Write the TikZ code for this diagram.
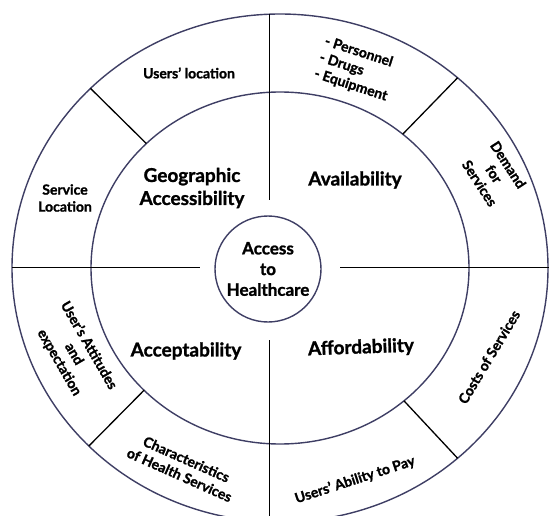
\documentclass[tikz,border=0pt]{standalone}
\usepackage{fontspec}
\setmainfont{Lato}[BoldFeatures={FakeBold=1.3}]
\definecolor{ringcol}{RGB}{62,62,100}
\tikzset{
  ring/.style={draw=ringcol, line width=1.4pt},
  divider/.style={draw=black, line width=1.3pt},
  mainlbl/.style={font=\fontsize{19}{23}\selectfont\bfseries, align=center, inner sep=0pt},
  outerlbl/.style={font=\fontsize{14}{17}\selectfont\bfseries, align=center, inner sep=0pt},
  hub/.style={circle, draw=ringcol, line width=1.4pt, fill=white, minimum size=106pt, inner sep=0pt,
    font=\fontsize{17}{20.7}\selectfont\bfseries, align=center}
}
\begin{document}
\begin{tikzpicture}[x=1pt, y=-1pt]
\useasboundingbox (0,0) rectangle (549,516);
% rings
\draw[ring] (280,268) ellipse [x radius=268, y radius=254];
\draw[ring] (280,268) ellipse [x radius=189, y radius=176];
% main cross lines
\coordinate (lft) at (12,267.5);
\coordinate (rgt) at (549,267.5);
\coordinate (top) at (269.5,14.2);
\coordinate (bot) at (269.5,516);
\coordinate (hl) at (200,267.5);
\coordinate (hr) at (340,267.5);
\coordinate (vt) at (269.5,200);
\coordinate (vb) at (269.5,340);
\draw[divider] (lft) -- (hl);
\draw[divider] (hr) -- (rgt);
\draw[divider] (top) -- (vt);
\draw[divider] (vb) -- (bot);
% diagonal dividers in outer ring
\coordinate (o1) at ({280+268*cos(135)},{268-254*sin(135)});
\coordinate (m1) at ({280+189*cos(135)},{268-176*sin(135)});
\coordinate (o2) at ({280+268*cos(48.5)},{268-254*sin(48.5)});
\coordinate (m2) at ({280+189*cos(49.5)},{268-176*sin(49.5)});
\coordinate (o3) at ({280+268*cos(224.5)},{268-254*sin(224.5)});
\coordinate (m3) at ({280+189*cos(224)},{268-176*sin(224)});
\coordinate (o4) at ({280+268*cos(-48.5)},{268-254*sin(-48.5)});
\coordinate (m4) at ({280+189*cos(-49)},{268-176*sin(-49)});
\draw[divider] (o1) -- (m1);
\draw[divider] (o2) -- (m2);
\draw[divider] (o3) -- (m3);
\draw[divider] (o4) -- (m4);
% hub
\node[hub] (hubc) at (268,269) {Access\\to\\Healthcare};
% main labels
\node[mainlbl] (geo) at (192,188) {Geographic\\Accessibility};
\node[mainlbl] (avail) at (355,180) {Availability};
\node[mainlbl] (accept) at (186,351) {Acceptability};
\node[mainlbl, rotate=2] (afford) at (361,348) {Affordability};
% outer labels
\node[outerlbl] (uloc) at (189,73) {Users’ location};
\node[outerlbl] (sloc) at (65,198) {Service\\Location};
\node[outerlbl, align=left, rotate=-18] (pde) at (356,69) {- Personnel\\- Drugs\\- Equipment};
\node[outerlbl, rotate=-57] (dem) at (494,174) {Demand\\for\\Services};
\node[outerlbl, rotate=59] (cost) at (489,357) {Costs of Services};
\node[outerlbl, rotate=18] (pay) at (355,480) {Users’ Ability to Pay};
\node[outerlbl, rotate=-24] (char) at (183,467) {Characteristics\\of Health Services};
\node[outerlbl, rotate=-60] (att) at (74,354) {User’s Attitudes\\and\\expectation};
\end{tikzpicture}
\end{document}
